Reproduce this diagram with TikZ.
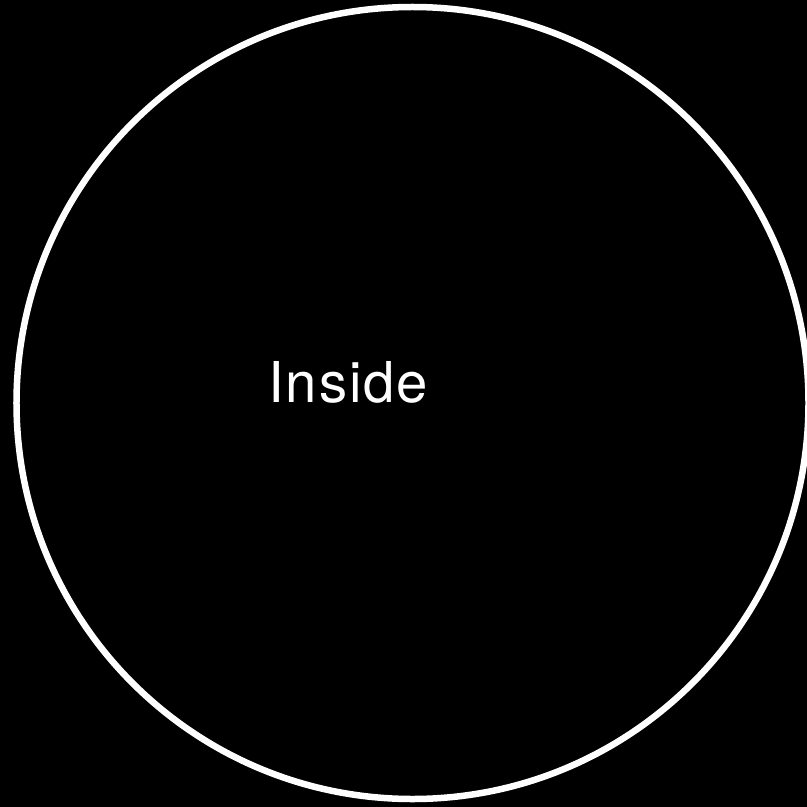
\documentclass[tikz,border=0pt]{standalone}
\usepackage{fontspec}
\setmainfont[LetterSpace=3.5]{TeX Gyre Heros}
\begin{document}
\begin{tikzpicture}[x=1bp,y=-1bp,
  ring/.style={draw=white,line width=6.5bp},
  label/.style={text=white,inner sep=0pt,anchor=base west,font=\fontsize{56.5}{60}\selectfont}]
\fill[black] (0,0) rectangle (807,807);
\useasboundingbox (0,0) rectangle (807,807);
\node[ring,circle,minimum size=792bp,inner sep=0pt] (c) at (412.5,403) {};
\node[label] (t) at (268,402) {Inside};
\end{tikzpicture}
\end{document}
